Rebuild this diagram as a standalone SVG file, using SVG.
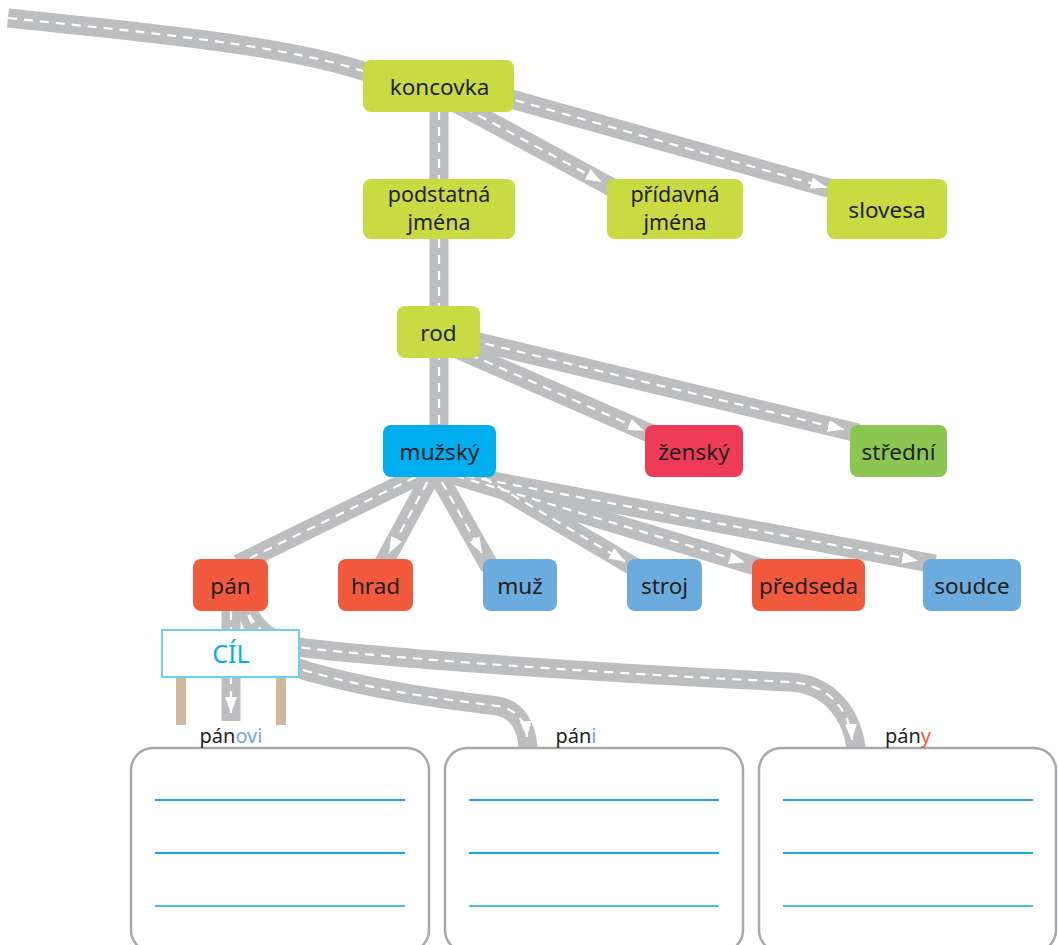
<svg xmlns="http://www.w3.org/2000/svg" width="1058" height="945" viewBox="0 0 1058 945">
<defs>
<marker id="arr" markerUnits="userSpaceOnUse" viewBox="0 0 16 12" markerWidth="16" markerHeight="12" refX="16" refY="6" orient="auto">
<path d="M0 0 L16 6 L0 12 Z" fill="#ffffff"/>
</marker>
<style>
.road{fill:none;stroke:#bcbec0;stroke-width:19;stroke-linecap:butt;stroke-linejoin:round}
.dash{fill:none;stroke:#ffffff;stroke-width:2.2;stroke-dasharray:9 7}
.dash.a{marker-end:url(#arr)}
.node text,.lbl{font-family:'Noto Sans','Open Sans','DejaVu Sans',sans-serif;fill:#231f20;text-anchor:middle}
.node text{font-size:22.5px}
.node text.two{font-size:21.5px}
.lbl{font-size:20px}
.yg{fill:#c9db42}
.red{fill:#f15a3c}
.blue{fill:#6babdd}
.box{fill:#ffffff;stroke:#a8a9ad;stroke-width:2.5}
.ln{stroke:#1aa9e2;stroke-width:2}
.ln3{stroke:#4dbdec;stroke-width:2}
.post{fill:#cfb99b}
</style>
</defs>
<rect width="1058" height="945" fill="#ffffff"/>
<g id="connectors">
<g id="roads">
<path class="road" d="M 8 18 C 150 33, 300 46, 380 77"/>
<path class="road" d="M 439 95 L 439 445"/>
<path class="road" d="M 450 100 L 613 188"/>
<path class="road" d="M 500 96 L 834 189.5"/>
<path class="road" d="M 455 348 L 656 436"/>
<path class="road" d="M 470 340 L 858 433"/>
<path class="road" d="M 430 470 L 238 564"/>
<path class="road" d="M 435 468 L 382 566"/>
<path class="road" d="M 434 468 L 490 567"/>
<path class="road" d="M 470 470 L 636 568"/>
<path class="road" d="M 440 471 L 762 568"/>
<path class="road" d="M 450 473 L 935 564"/>
<path class="road" d="M 231 605 L 231 721"/>
<path class="road" d="M 243 600 C 255 640, 275 662, 310 672 C 390 694, 460 701, 497 706 C 518 709, 527 728, 528 748"/>
<path class="road" d="M 243 600 C 252 628, 270 643, 305 648 C 400 659, 600 673, 790 682 C 830 684, 852 715, 856 748"/>
</g>
<g id="lanes">
<path class="dash" d="M 8 18 C 150 33, 300 46, 380 77"/>
<path class="dash" d="M 439 95 L 439 445"/>
<path class="dash a" d="M 450 100 L 601.7 181.9"/>
<path class="dash a" d="M 500 96 L 826.5 187.4"/>
<path class="dash a" d="M 455 348 L 644 430.8"/>
<path class="dash a" d="M 470 340 L 844 429.6"/>
<path class="dash" d="M 430 470 L 238 564"/>
<path class="dash a" d="M 435 468 L 389 553"/>
<path class="dash a" d="M 434 468 L 482 553"/>
<path class="dash a" d="M 470 470 L 625 561.5"/>
<path class="dash a" d="M 440 471 L 745 562.5"/>
<path class="dash a" d="M 450 473 L 918 560.8"/>
<path class="dash a" d="M 231 611 L 231 713"/>
<path class="dash a" d="M 243 600 C 255 640, 275 662, 310 672 C 390 694, 460 701, 497 706 C 518 709, 526 724, 527 737"/>
<path class="dash a" d="M 243 600 C 252 628, 270 643, 305 648 C 400 659, 600 673, 790 682 C 830 684, 850 712, 852 740"/>
</g>
</g>
<g id="n-koncovka" class="node"><rect class="yg" x="363" y="60" width="151" height="52" rx="8"/><text x="439.5" y="95">koncovka</text></g>
<g id="n-podstatna" class="node"><rect class="yg" x="363" y="179" width="152" height="60" rx="8"/><text class="two" x="439" y="202">podstatná</text><text class="two" x="439" y="229.5">jména</text></g>
<g id="n-pridavna" class="node"><rect class="yg" x="607" y="179" width="136" height="60" rx="8"/><text class="two" x="675" y="202">přídavná</text><text class="two" x="675" y="229.5">jména</text></g>
<g id="n-slovesa" class="node"><rect class="yg" x="827" y="179" width="120" height="60" rx="8"/><text x="887" y="218">slovesa</text></g>
<g id="n-rod" class="node"><rect class="yg" x="397" y="306" width="83" height="52" rx="8"/><text x="438.5" y="341">rod</text></g>
<g id="n-muzsky" class="node"><rect fill="#00adee" x="383" y="425" width="113" height="52" rx="8"/><text x="439.5" y="460">mužský</text></g>
<g id="n-zensky" class="node"><rect fill="#ef3b58" x="645" y="425" width="98" height="52" rx="8"/><text x="694" y="460">ženský</text></g>
<g id="n-stredni" class="node"><rect fill="#8bc652" x="850" y="425" width="97" height="52" rx="8"/><text x="898.5" y="460">střední</text></g>
<g id="n-pan" class="node"><rect class="red" x="193" y="559" width="75" height="52" rx="8"/><text x="230.5" y="594">pán</text></g>
<g id="n-hrad" class="node"><rect class="red" x="338" y="559" width="75" height="52" rx="8"/><text x="375.5" y="594">hrad</text></g>
<g id="n-muz" class="node"><rect class="blue" x="483" y="559" width="74" height="52" rx="8"/><text x="520" y="594">muž</text></g>
<g id="n-stroj" class="node"><rect class="blue" x="627" y="559" width="75" height="52" rx="8"/><text x="664.5" y="594">stroj</text></g>
<g id="n-predseda" class="node"><rect class="red" x="752" y="559" width="113" height="52" rx="8"/><text x="808.5" y="594">předseda</text></g>
<g id="n-soudce" class="node"><rect class="blue" x="923" y="559" width="98" height="52" rx="8"/><text x="972" y="594">soudce</text></g>
<g id="cil-sign">
<rect class="post" x="176" y="677" width="10" height="48"/>
<rect class="post" x="276" y="677" width="10" height="48"/>
<rect x="162" y="630" width="137" height="47" fill="#ffffff" stroke="#6dcff6" stroke-width="2"/>
<text x="231" y="663" font-family="'Noto Sans','Open Sans',sans-serif" font-size="25" fill="#00aeef" text-anchor="middle">CÍL</text>
</g>
<g id="box-panovi">
<rect class="box" x="131" y="748" width="298" height="204" rx="22"/>
<line class="ln" x1="155" y1="800" x2="405" y2="800"/>
<line class="ln" x1="155" y1="853" x2="405" y2="853"/>
<line class="ln3" x1="155" y1="906" x2="405" y2="906"/>
<text class="lbl" x="231" y="743">pán<tspan fill="#6babdd">ovi</tspan></text>
</g>
<g id="box-pani">
<rect class="box" x="445" y="748" width="298" height="204" rx="22"/>
<line class="ln" x1="469" y1="800" x2="719" y2="800"/>
<line class="ln" x1="469" y1="853" x2="719" y2="853"/>
<line class="ln3" x1="469" y1="906" x2="719" y2="906"/>
<text class="lbl" x="576" y="743">pán<tspan fill="#6babdd">i</tspan></text>
</g>
<g id="box-pany">
<rect class="box" x="759" y="748" width="297" height="204" rx="22"/>
<line class="ln" x1="783" y1="800" x2="1033" y2="800"/>
<line class="ln" x1="783" y1="853" x2="1033" y2="853"/>
<line class="ln3" x1="783" y1="906" x2="1033" y2="906"/>
<text class="lbl" x="908" y="743">pán<tspan fill="#f15a3c">y</tspan></text>
</g>
</svg>
